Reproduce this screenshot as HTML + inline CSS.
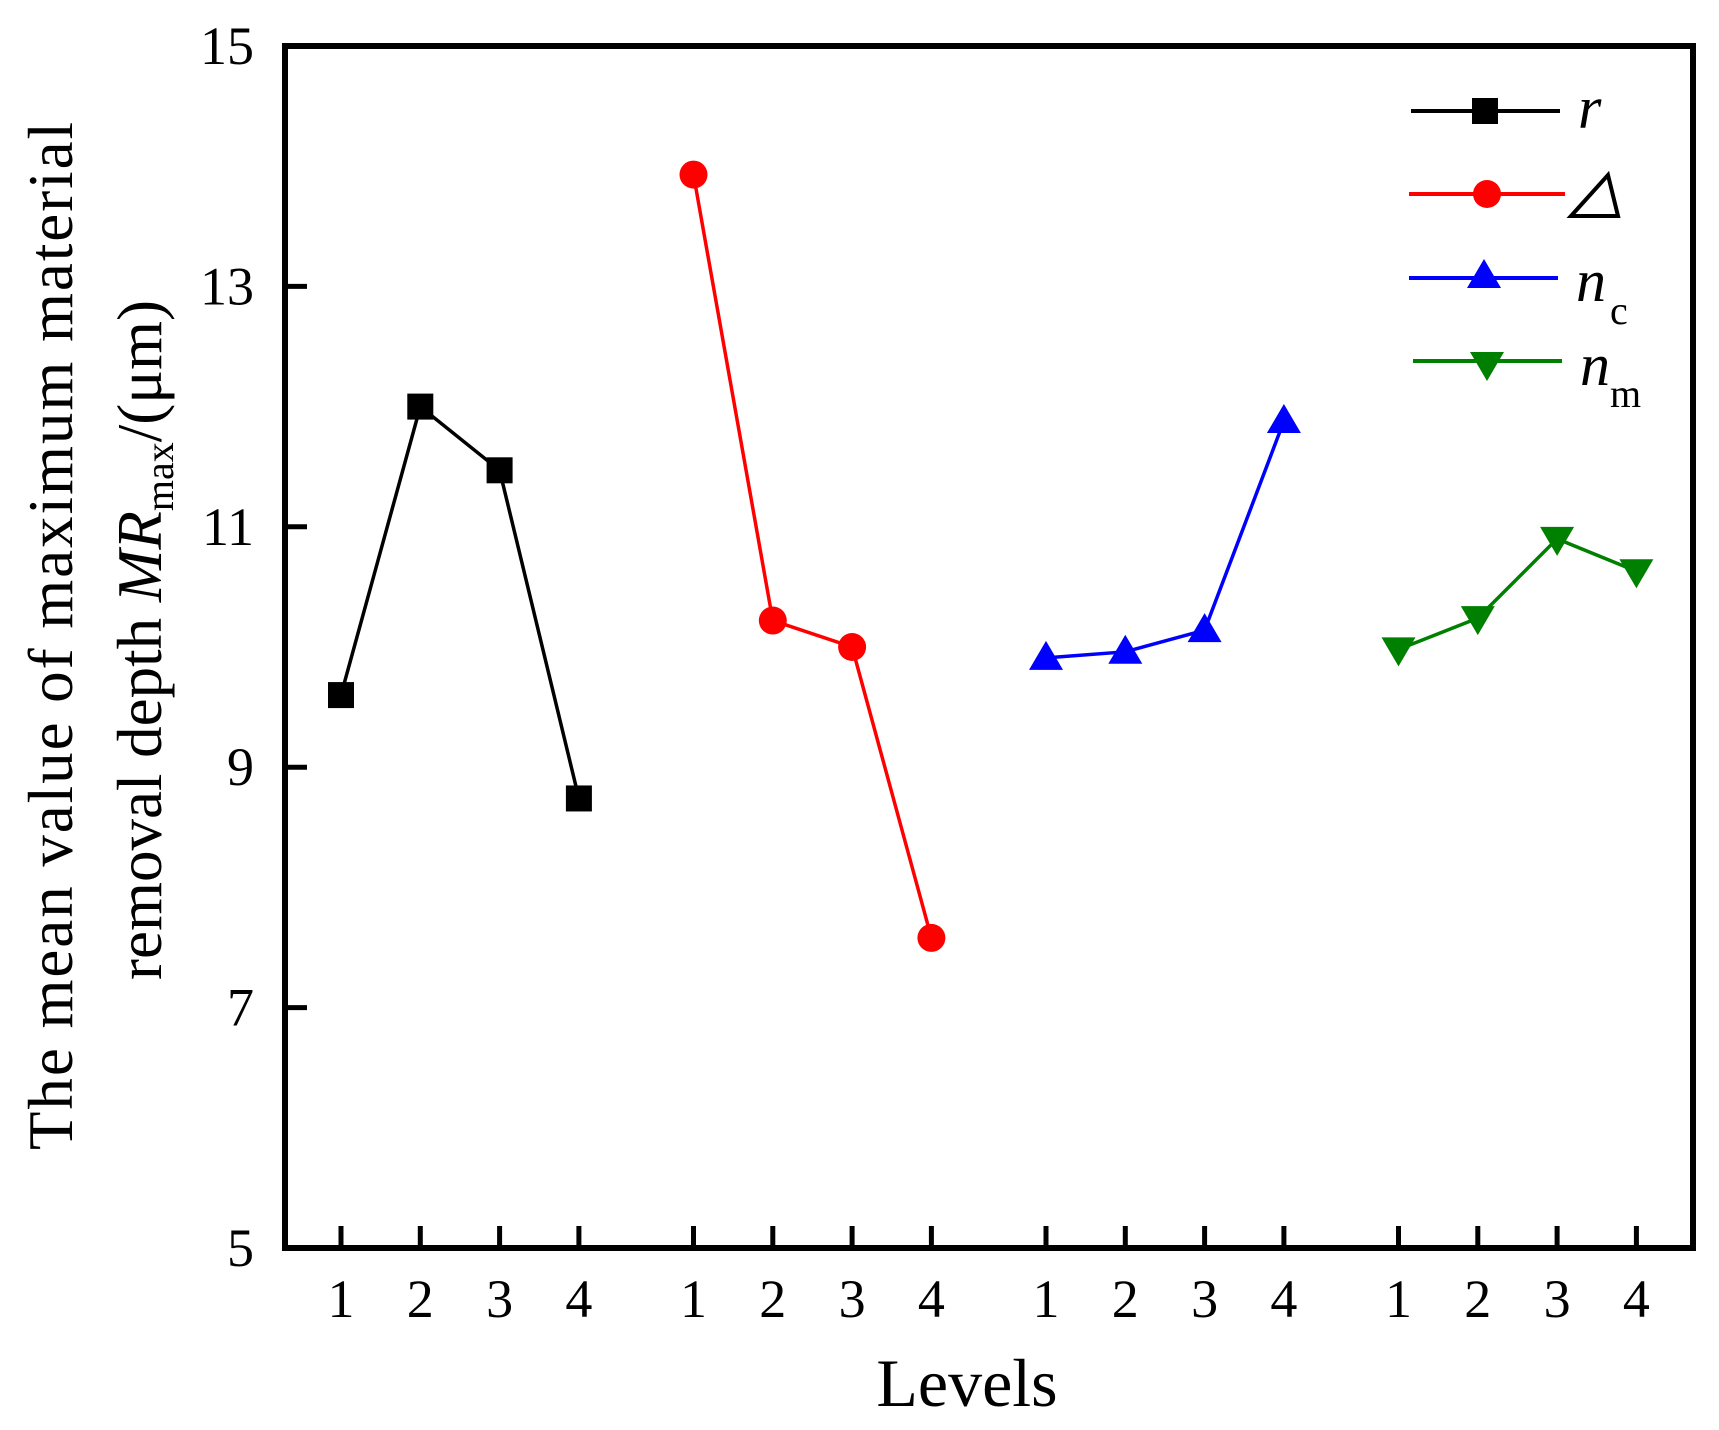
<!DOCTYPE html>
<html><head><meta charset="utf-8"><style>
html,body{margin:0;padding:0;background:#fff}
svg{display:block;font-family:"Liberation Serif",serif}
</style></head><body>
<svg id="chart" width="1719" height="1430" viewBox="0 0 1719 1430" xmlns="http://www.w3.org/2000/svg">
<g id="plot"></g>
<text transform="translate(72,636) rotate(-90)" text-anchor="middle" font-size="63" textLength="1028" lengthAdjust="spacing">The mean value  of maximum material</text>
<text transform="translate(161,640) rotate(-90)" text-anchor="middle" font-size="63">removal depth <tspan font-style="italic">MR</tspan><tspan font-size="40" dy="12">max</tspan><tspan dy="-12">/(μm)</tspan></text>
<text x="967" y="1406" text-anchor="middle" font-size="68">Levels</text>
<g>
<g><line x1="1411" y1="111" x2="1560" y2="111" stroke="#000" stroke-width="4"/><rect x="1472" y="98" width="26" height="26" fill="#000"/><text x="1578" y="128" font-size="60" font-style="italic">r</text></g>
<g><line x1="1409" y1="194" x2="1565" y2="194" stroke="#f00" stroke-width="4"/><circle cx="1487" cy="194" r="14" fill="#f00"/><polygon points="1571,216 1618,216 1608,175" fill="none" stroke="#000" stroke-width="4"/></g>
<g><line x1="1409" y1="278" x2="1558" y2="278" stroke="#00f" stroke-width="4"/><polygon points="1484,259 1467,288 1501,288" fill="#00f"/><text x="1576" y="301" font-size="60" font-style="italic">n</text><text x="1610" y="324" font-size="40">c</text></g>
<g><line x1="1413" y1="361" x2="1562" y2="361" stroke="#008000" stroke-width="4"/><polygon points="1470,352 1504,352 1487,381" fill="#008000"/><text x="1580" y="385" font-size="60" font-style="italic">n</text><text x="1610" y="407" font-size="40">m</text></g>
</g>
</svg>
<script>
const levels = [1, 2, 3, 4];
const rValues = [9.6, 12.0, 11.47, 8.74];
const deltaValues = [13.93, 10.22, 10.0, 7.58];
const ncValues = [9.91, 9.96, 10.14, 11.88];
const nmValues = [9.98, 10.24, 10.90, 10.63];
const yTicks = [5, 7, 9, 11, 13, 15];

const NS = "http://www.w3.org/2000/svg";
const plot = document.getElementById('plot');
const L = 285, R = 1693, T = 46, B = 1248;
function yScale(v){ return B - (v - 5) / 10 * (B - T); }
function xScale(g, lvl){ return 341 + g * 352.5 + (lvl - 1) * 79.3; }
function mk(tag, attrs, parent){ const e = document.createElementNS(NS, tag); for (const k in attrs) e.setAttribute(k, attrs[k]); (parent || plot).appendChild(e); return e; }

const frame = mk('rect', {x:L, y:T, width:R-L, height:B-T, fill:'none', stroke:'#000', 'stroke-width':6});



yTicks.forEach(v => {
  const y = yScale(v);
  if (v !== 5 && v !== 15) {
    const t = mk('line', {x1:L, y1:y, x2:L+22, y2:y, stroke:'#000', 'stroke-width':5});
    
    
  }
  const lb = mk('text', {x:254, y:y+18, 'text-anchor':'end', 'font-size':54});
  lb.textContent = v;
  
  
});

const series = [
  {vals:rValues, color:'#000', marker:'square', name:'r'},
  {vals:deltaValues, color:'#f00', marker:'circle', name:'delta'},
  {vals:ncValues, color:'#00f', marker:'up', name:'nc'},
  {vals:nmValues, color:'#008000', marker:'down', name:'nm'}
];
series.forEach((s, g) => {
  levels.forEach(lv => {
    const x = xScale(g, lv);
    const t = mk('line', {x1:x, y1:B, x2:x, y2:B-22, stroke:'#000', 'stroke-width':5});
    
    
    const lb = mk('text', {x:x, y:1317, 'text-anchor':'middle', 'font-size':54});
    lb.textContent = lv;
    
    
  });
  const pts = s.vals.map((v, i) => xScale(g, levels[i]) + ',' + yScale(v)).join(' ');
  const pl = mk('polyline', {points:pts, fill:'none', stroke:s.color, 'stroke-width':3.5});
  
  
  s.vals.forEach((v, i) => {
    const x = xScale(g, levels[i]), y = yScale(v);
    let m;
    if (s.marker === 'square') m = mk('rect', {x:x-13, y:y-13, width:26, height:26, fill:s.color});
    else if (s.marker === 'circle') m = mk('circle', {cx:x, cy:y, r:14, fill:s.color});
    else if (s.marker === 'up') m = mk('polygon', {points:`${x},${y-17} ${x-17},${y+12} ${x+17},${y+12}`, fill:s.color});
    else m = mk('polygon', {points:`${x-17},${y-12} ${x+17},${y-12} ${x},${y+17}`, fill:s.color});
    
    
  });
});
</script>
</body></html>
